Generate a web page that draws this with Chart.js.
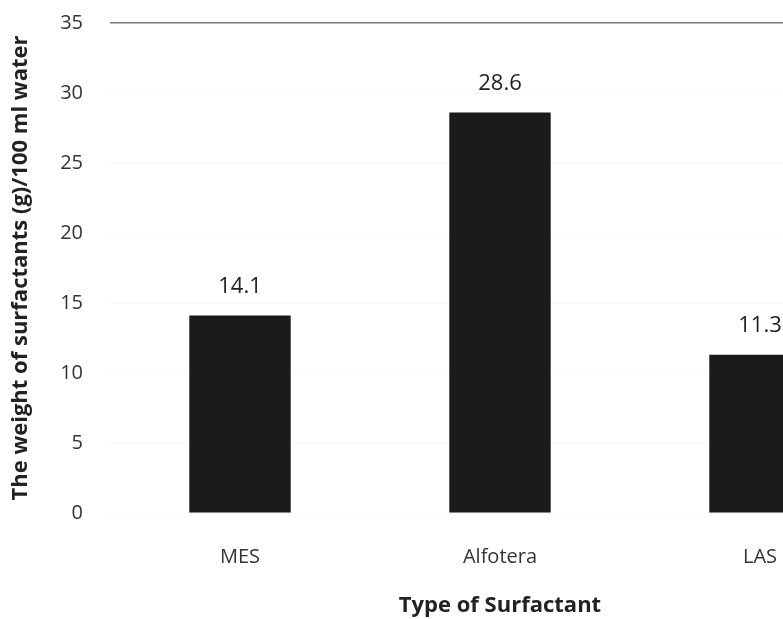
<!DOCTYPE html>
<html>
<head>
<meta charset="utf-8">
<script src="https://cdn.jsdelivr.net/npm/chart.js@4/dist/chart.umd.min.js"></script>
<style>
  html, body { margin: 0; padding: 0; background: #fff; overflow: hidden; }
  #wrap { width: 783px; height: 619px; overflow: hidden; }
  canvas { display: block; }
</style>
</head>
<body>
<div id="wrap"><canvas id="c" width="900" height="619"></canvas></div>
<script>
// Solubility of each surfactant in water
const categories = ['MES', 'Alfotera', 'LAS'];
const weights = [14.1, 28.6, 11.3];
const yTicks = [0, 5, 10, 15, 20, 25, 30, 35];

const FONT = "'Open Sans', Lato, 'Liberation Sans', sans-serif";

// Writes each bar's value just above its top
const valueLabels = {
  id: 'valueLabels',
  afterDatasetsDraw(chart) {
    const ctx = chart.ctx;
    const meta = chart.getDatasetMeta(0);
    ctx.save();
    ctx.font = '22px ' + FONT;
    ctx.fillStyle = '#222';
    ctx.textAlign = 'center';
    ctx.textBaseline = 'middle';
    meta.data.forEach((bar, i) => {
      ctx.fillText(String(chart.data.datasets[0].data[i]), bar.x, bar.y - 29);
    });
    ctx.restore();
  }
};

new Chart(document.getElementById('c'), {
  type: 'bar',
  data: {
    labels: categories,
    datasets: [{
      data: weights,
      backgroundColor: '#1b1b1b',
      borderWidth: 0,
      categoryPercentage: 1.0,
      barPercentage: 0.39
    }]
  },
  options: {
    responsive: false,
    animation: false,
    layout: { padding: { left: 8, right: 10, top: 23, bottom: 0 } },
    plugins: { legend: { display: false }, tooltip: { enabled: false } },
    scales: {
      x: {
        afterFit(scale) { scale.height = 106; },
        grid: { display: false, drawTicks: false },
        border: { display: false },
        ticks: { font: { family: FONT, size: 20 }, color: '#333', padding: 32 },
        title: {
          display: true,
          text: 'Type of Surfactant',
          font: { family: FONT, size: 22, weight: 'bold' },
          color: '#222',
          padding: { top: 0, bottom: 0 }
        }
      },
      y: {
        min: 0,
        max: 35,
        afterBuildTicks(scale) { scale.ticks = yTicks.map(v => ({ value: v })); },
        afterFit(scale) {
          scale.width = 102;
          scale.paddingTop = 0;
          scale.paddingBottom = 0;
        },
        grid: {
          drawTicks: false,
          color: ctx => ctx.tick && ctx.tick.value === 35 ? '#7a7a7a' : 'rgba(0,0,0,0.03)',
          lineWidth: ctx => ctx.tick && ctx.tick.value === 35 ? 1.5 : 1
        },
        border: { display: false },
        ticks: { font: { family: FONT, size: 20 }, color: '#333', padding: 27 },
        title: {
          display: true,
          text: 'The weight of surfactants (g)/100 ml water',
          font: { family: FONT, size: 22, weight: 'bold' },
          color: '#222',
          padding: { top: 0, bottom: 0 }
        }
      }
    }
  },
  plugins: [valueLabels]
});
</script>
</body>
</html>
